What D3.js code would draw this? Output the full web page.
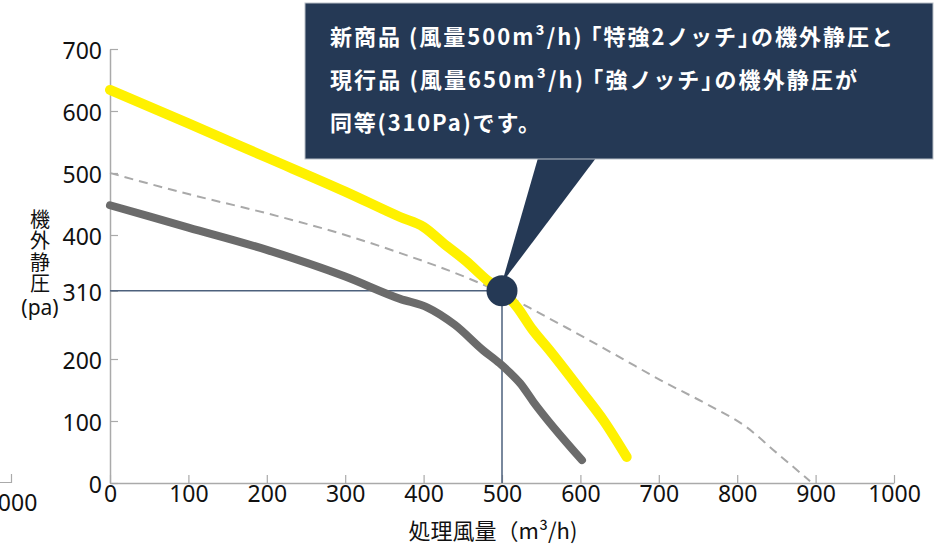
<!DOCTYPE html>
<html>
<head>
<meta charset="utf-8">
<script src="https://cdn.jsdelivr.net/npm/d3@7"></script>
<style>
  html, body { margin: 0; padding: 0; background: #fff; }
  svg { display: block; font-family: "Noto Sans", "Noto Sans CJK JP", sans-serif; }
</style>
</head>
<body>
<svg id="chart" width="939" height="545"></svg>
<script>
// ticks
var xTicks = [0, 100, 200, 300, 400, 500, 600, 700, 800, 900, 1000];
var yTicks = [0, 100, 200, 310, 400, 500, 600, 700];

// 新商品 特強2ノッチ (yellow)
var newFlow  = [0, 100, 200, 300, 370, 400, 425, 455, 481, 500, 519, 539, 560, 600, 630, 659];
var newPress = [634, 580, 525, 470, 429, 413, 387, 357, 327, 310, 284, 247, 215, 150, 100, 42];

// 現行品 強ノッチ (gray)
var curFlow  = [0, 100, 200, 300, 370, 405, 440, 476, 497, 510, 523, 540, 602];
var curPress = [448, 412, 376, 333, 297, 283, 255, 214, 193, 178, 161, 131, 37];

// dashed reference curve
var refFlow  = [0, 100, 200, 300, 370, 463, 500, 552, 583, 650, 702, 760, 812, 850, 893];
var refPress = [500, 466, 435, 400, 371, 327, 306, 271, 250, 203, 166, 128, 90, 49, 3];

// matching point
var matchFlow = 500, matchPress = 310;

var calloutLines = [
  "新商品 (風量500m³/h) ｢特強2ノッチ｣の機外静圧と",
  "現行品 (風量650m³/h) ｢強ノッチ｣の機外静圧が",
  "同等(310Pa)です。"
];
var calloutWidths = [563, 527, 210];

var svg = d3.select("#chart");
var x = d3.scaleLinear().domain([0, 1000]).range([110, 894]);
var y = d3.scaleLinear().domain([0, 700]).range([483, 49]);

var axisColor = "#aaaaaa";

// cut-off fragment of a neighbouring chart on the left edge
svg.append("path").attr("d", "M0,482.5H11.5V474").attr("fill", "none")
  .attr("stroke", axisColor).attr("stroke-width", 1.2);
svg.append("text").attr("x", 11).attr("y", 511).attr("text-anchor", "middle")
  .attr("font-size", 23).attr("fill", "#111").text("1000");

// axes
var xAxis = svg.append("g").attr("transform", "translate(0," + y(0) + ")")
  .call(d3.axisBottom(x).tickValues(xTicks).tickFormat(d3.format("d"))
    .tickSizeInner(-8).tickSizeOuter(0).tickPadding(14));
var yAxis = svg.append("g").attr("transform", "translate(" + x(0) + ",0)")
  .call(d3.axisLeft(y).tickValues(yTicks).tickFormat(d3.format("d"))
    .tickSizeInner(-8).tickSizeOuter(0).tickPadding(8));
[xAxis, yAxis].forEach(function(g) {
  g.select(".domain").attr("stroke", axisColor).attr("stroke-width", 1.5);
  g.selectAll(".tick line").attr("stroke", axisColor).attr("stroke-width", 1.2);
  g.selectAll(".tick text").attr("fill", "#111").attr("font-size", 23)
    .attr("font-family", "'Noto Sans', sans-serif");
});
xAxis.selectAll(".tick text").attr("dy", "0.2em");
yAxis.selectAll(".tick text").attr("dy", "0.42em");

// axis titles
svg.append("text").attr("x", 493).attr("y", 539).attr("text-anchor", "middle")
  .attr("font-size", 22).attr("fill", "#111")
  .attr("font-family", "'Noto Sans CJK JP', sans-serif")
  .text("処理風量（m³/h)");

svg.append("text").attr("x", 40).attr("y", 209)
  .attr("fill", "#111").attr("font-size", 20)
  .attr("font-family", "'Noto Sans CJK JP', sans-serif")
  .style("writing-mode", "vertical-rl").style("letter-spacing", "1.5px")
  .text("機外静圧");
svg.append("text").attr("x", 40).attr("y", 315).attr("text-anchor", "middle")
  .attr("fill", "#111").attr("font-size", 21)
  .attr("font-family", "'Noto Sans', sans-serif")
  .text("(pa)");

var line = d3.line().x(function(d) { return x(d[0]); }).y(function(d) { return y(d[1]); })
  .curve(d3.curveMonotoneX);

function zip(a, b) { return a.map(function(v, i) { return [v, b[i]]; }); }

// reference guide lines
var guideColor = "#4d607c";
svg.append("line").attr("x1", x(0)).attr("x2", x(matchFlow))
  .attr("y1", y(matchPress)).attr("y2", y(matchPress))
  .attr("stroke", guideColor).attr("stroke-width", 1.5);
svg.append("line").attr("x1", x(matchFlow)).attr("x2", x(matchFlow))
  .attr("y1", y(matchPress)).attr("y2", y(0))
  .attr("stroke", guideColor).attr("stroke-width", 1.5);

// curves
svg.append("path").datum(zip(refFlow, refPress)).attr("d", line)
  .attr("fill", "none").attr("stroke", "#a9a9a9").attr("stroke-width", 2)
  .attr("stroke-dasharray", "9,6");
svg.append("path").datum(zip(curFlow, curPress)).attr("d", line)
  .attr("fill", "none").attr("stroke", "#6b6b6b").attr("stroke-width", 8)
  .attr("stroke-linecap", "round").attr("stroke-linejoin", "round");
svg.append("path").datum(zip(newFlow, newPress)).attr("d", line)
  .attr("fill", "none").attr("stroke", "#fff100").attr("stroke-width", 10)
  .attr("stroke-linecap", "round").attr("stroke-linejoin", "round");

// callout
var navy = "#253955";
var px = x(matchFlow), py = y(matchPress);
svg.append("path").attr("d", "M538,158L596,158L" + px + "," + (py - 8) + "Z").attr("fill", navy);
svg.append("rect").attr("x", 305).attr("y", 3).attr("width", 628).attr("height", 156)
  .attr("fill", navy).attr("stroke", "#b9c0c8").attr("stroke-width", 1);
svg.append("circle").attr("cx", px).attr("cy", py).attr("r", 15.5).attr("fill", navy);

calloutLines.forEach(function(s, i) {
  svg.append("text").attr("x", 330).attr("y", 45 + i * 43)
    .attr("font-size", 22).attr("font-weight", "bold").attr("fill", "#fff")
    .attr("font-family", "'Noto Sans CJK JP', sans-serif")
    .attr("textLength", calloutWidths[i]).attr("lengthAdjust", "spacing")
    .text(s);
});
</script>
</body>
</html>
